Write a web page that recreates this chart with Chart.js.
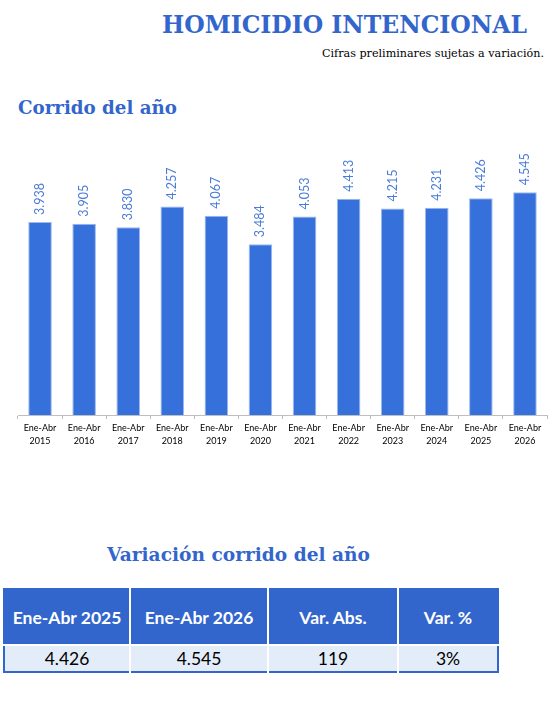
<!DOCTYPE html>
<html>
<head>
<meta charset="utf-8">
<script src="https://cdn.jsdelivr.net/npm/chart.js@4"></script>
<style>
  html, body { margin: 0; padding: 0; background: #fff; }
  #page { position: relative; width: 554px; height: 702px; overflow: hidden; }
  #titles { position: absolute; left: 0; top: 0; }
  #chartBox { position: absolute; left: 0; top: 120px; width: 554px; height: 340px; }
  table.var {
    position: absolute; left: 3px; top: 588px; width: 494px;
    border-collapse: collapse; font-family: Lato, sans-serif;
    border: 2px solid #3366CC; table-layout: fixed;
  }
  table.var th {
    background: #3366CC; color: #fff; font-weight: bold; font-size: 17.5px;
    height: 54px; border-left: 2px solid #fff; border-bottom: 2px solid #fff;
    padding: 0; white-space: nowrap;
  }
  table.var td {
    background: #E3EDFA; color: #000; font-size: 17.5px; text-align: center;
    height: 25px; border-left: 2px solid #fff; padding: 0;
  }
  table.var th:first-child, table.var td:first-child { border-left: none; }
</style>
</head>
<body>
<div id="page">
  <svg id="titles" width="554" height="702">
    <text x="162" y="33" font-family="DejaVu Serif" font-weight="bold" font-size="25" fill="#3366CC"
          textLength="365" lengthAdjust="spacingAndGlyphs">HOMICIDIO INTENCIONAL</text>
    <text x="322" y="57" font-family="DejaVu Serif" font-size="11" fill="#000"
          textLength="222" lengthAdjust="spacingAndGlyphs">Cifras preliminares sujetas a variación.</text>
    <text x="18" y="114" font-family="DejaVu Serif" font-weight="bold" font-size="19" fill="#3366CC"
          textLength="159" lengthAdjust="spacingAndGlyphs">Corrido del año</text>
    <text x="107" y="561" font-family="DejaVu Serif" font-weight="bold" font-size="19" fill="#3366CC"
          textLength="263" lengthAdjust="spacingAndGlyphs">Variación corrido del año</text>
  </svg>
  <div id="chartBox"><canvas id="chart"></canvas></div>
  <table class="var">
    <colgroup><col style="width:126px"><col style="width:138px"><col style="width:130px"><col style="width:100px"></colgroup>
    <thead><tr id="headRow"></tr></thead>
    <tbody><tr id="valRow"></tr></tbody>
  </table>
</div>
<script>
const periods = ['Ene-Abr', 'Ene-Abr', 'Ene-Abr', 'Ene-Abr', 'Ene-Abr', 'Ene-Abr',
                 'Ene-Abr', 'Ene-Abr', 'Ene-Abr', 'Ene-Abr', 'Ene-Abr', 'Ene-Abr'];
const years = ['2015', '2016', '2017', '2018', '2019', '2020', '2021', '2022', '2023', '2024', '2025', '2026'];
const homicides = [3938, 3905, 3830, 4257, 4067, 3484, 4053, 4413, 4215, 4231, 4426, 4545];

const tableHeaders = ['Ene-Abr 2025', 'Ene-Abr 2026', 'Var. Abs.', 'Var. %'];
const tableValues = ['4.426', '4.545', '119', '3%'];

// miles con punto, como en el original
const fmt = v => String(v).replace(/\B(?=(\d{3})+(?!\d))/g, '.');

document.getElementById('headRow').innerHTML = tableHeaders.map(h => `<th>${h}</th>`).join('');
document.getElementById('valRow').innerHTML = tableValues.map(v => `<td>${v}</td>`).join('');

const verticalLabels = {
  id: 'verticalLabels',
  afterDatasetsDraw(chart) {
    const ctx = chart.ctx;
    const meta = chart.getDatasetMeta(0);
    ctx.save();
    ctx.fillStyle = '#4A7BD8';
    ctx.font = '12.5px Lato, sans-serif';
    ctx.textAlign = 'left';
    ctx.textBaseline = 'middle';
    meta.data.forEach((bar, i) => {
      ctx.save();
      ctx.translate(bar.x, bar.y - 7);
      ctx.rotate(-Math.PI / 2);
      ctx.fillText(fmt(chart.data.datasets[0].data[i]), 0, 0);
      ctx.restore();
    });
    ctx.restore();
  }
};

new Chart(document.getElementById('chart').getContext('2d'), {
  type: 'bar',
  data: {
    labels: years.map((y, i) => [periods[i], y]),
    datasets: [{
      data: homicides,
      backgroundColor: '#3670DA',
      borderColor: '#9DB8EC',
      borderWidth: 1,
      categoryPercentage: 1,
      barPercentage: 0.535
    }]
  },
  options: {
    responsive: true,
    maintainAspectRatio: false,
    animation: false,
    layout: { padding: { top: 50, left: 18, right: 7, bottom: 5 } },
    plugins: { legend: { display: false }, tooltip: { enabled: false } },
    scales: {
      x: {
        afterFit: s => { s.height = 40; },
        border: { color: '#BFBFBF', width: 1 },
        grid: { drawOnChartArea: false, drawTicks: true, tickLength: 4, color: '#BFBFBF' },
        ticks: { color: '#000', padding: 3, maxRotation: 0, font: { family: 'Lato', size: 9, lineHeight: 1.45 } }
      },
      y: { display: false, min: 0, max: 5000 }
    }
  },
  plugins: [verticalLabels]
});
</script>
</body>
</html>
